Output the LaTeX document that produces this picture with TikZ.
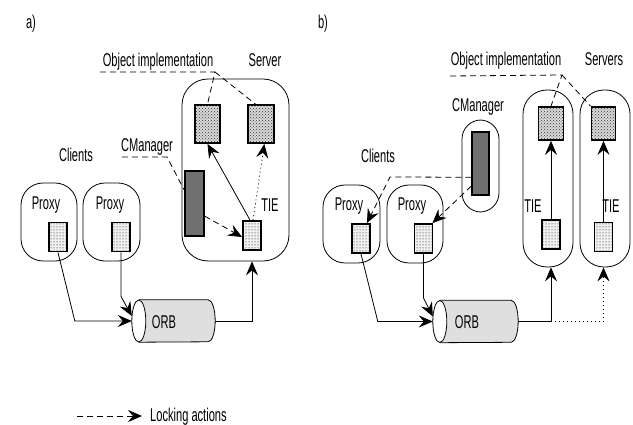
\documentclass[tikz,border=0pt]{standalone}
\usepackage{fontspec}
\setmainfont{Liberation Sans}[FakeStretch=0.6]
\usetikzlibrary{arrows.meta,patterns,backgrounds,calc}

% horizontal drum (ORB) drawn behind a named node
\newcommand\orbdrum[1]{%
  \begin{scope}[on background layer]
    \path[fill=gray!25] ([xshift=7pt]#1.north west) -- ([xshift=-7pt]#1.north east)
      arc[start angle=90,end angle=-90,x radius=7pt,y radius=21pt]
      -- ([xshift=7pt]#1.south west) -- cycle;
    \draw[line width=0.8pt] ([xshift=7pt]#1.north west) -- ([xshift=-7pt]#1.north east)
      arc[start angle=90,end angle=-90,x radius=7pt,y radius=21pt]
      -- ([xshift=7pt]#1.south west);
    \draw[line width=0.8pt,fill=white] ([xshift=7pt]#1.west) ellipse[x radius=7pt,y radius=21pt];
  \end{scope}}

\begin{document}
\begin{tikzpicture}[x=1pt,y=-1pt,
  lbl/.style={font=\fontsize{18.5pt}{20pt}\selectfont,inner sep=0pt,anchor=base},
  host/.style={draw,line width=0.8pt,inner sep=0pt},
  stub/.style={draw,line width=1.8pt,fill=gray!12,postaction={pattern=dots,pattern color=black},
               inner sep=0pt,minimum width=18pt,minimum height=29pt},
  impl/.style={draw,line width=1.8pt,fill=gray!30,postaction={pattern=crosshatch dots,pattern color=black!80},
               inner sep=0pt},
  cman/.style={draw,line width=1.3pt,fill=black!56,inner sep=0pt},
  orb/.style={inner sep=0pt},
  flow/.style={line width=0.8pt,-{Stealth[length=14pt,width=12pt,inset=5pt]}},
  lock/.style={flow,dash pattern=on 6pt off 4pt},
  idle/.style={flow,dash pattern=on 1pt off 3pt},
  leader/.style={line width=0.8pt,dash pattern=on 6pt off 4pt}]
\useasboundingbox (0,0) rectangle (633,425);

% ---------------- a) ----------------
\node[lbl] (capA) at (31,29) {a)};
\node[lbl] (implA) at (158,67) {Object implementation};
\node[lbl] (srvlA) at (265,67) {Server};
\node[lbl] (cmlA) at (147,152) {CManager};
\node[lbl] (cliA) at (76,162) {Clients};

\node[host,rounded corners=26pt,minimum width=107pt,minimum height=182pt] (srvA) at (235.5,170) {};
\node[impl,minimum width=25pt,minimum height=38pt] (objA1) at (207.5,124) {};
\node[impl,minimum width=26pt,minimum height=38pt] (objA2) at (261,124) {};
\node[cman,minimum width=19pt,minimum height=65pt] (cmA) at (194.5,203.5) {};
\node[stub] (tieA) at (252,235.5) {};
\node[lbl] (tielA) at (270,212) {TIE};

\node[host,rounded corners=22pt,minimum width=56pt,minimum height=78pt] (pxA1) at (49,222) {};
\node[lbl] at (46,210) {Proxy};
\node[stub] (stA1) at (58,237) {};
\node[host,rounded corners=22pt,minimum width=57pt,minimum height=78pt] (pxA2) at (111.5,222) {};
\node[lbl] at (110,210) {Proxy};
\node[stub] (stA2) at (121,237) {};

\node[orb,minimum width=83pt,minimum height=42pt,label={[lbl,anchor=center,xshift=-9.5pt,yshift=-1pt]center:ORB}] (orbA) at (173.5,321) {};
\orbdrum{orbA}

% leaders
\coordinate (ulA) at (100,72);
\coordinate (kA) at (215,72);
\draw[leader] (ulA) -- (kA) -- (objA1.north);
\draw[leader] (kA) -- ($(objA2.north west)!0.3!(objA2.north east)$);
\coordinate (ulC) at (122,157);
\coordinate (kC) at (167,157);
\draw[leader] (ulC) -- (kC) -- ($(cmA.north west)!0.3!(cmA.south west)$);

% flows
\draw[lock] ($(cmA.north east)!0.69!(cmA.south east)$) -- ($(tieA.north west)!0.55!(tieA.south west)$);
\draw[flow] ($(tieA.north)+(-2,0)$) -- (objA1.south);
\draw[idle] ($(tieA.north)+(1,0)$) -- ($(objA2.south west)!0.62!(objA2.south east)$);
\draw[flow] (stA1.south) -- ($(orbA.west)+(-57,0)$) -- (orbA.west);
\draw[flow] (stA2.south) -- ++(0,44) -- ($(orbA.west)+(0,-5)$);
\draw[flow] (orbA.east) -| (tieA.south |- srvA.south);

% ---------------- b) ----------------
\node[lbl] (capB) at (323,29) {b)};
\node[lbl] (implB) at (506,66) {Object implementation};
\node[lbl] (srvlB) at (604,66) {Servers};
\node[lbl] (cmlB) at (478,112) {CManager};
\node[lbl] (cliB) at (378,163) {Clients};

\node[host,rounded corners=19pt,minimum width=37pt,minimum height=92pt] (cmhB) at (480.5,166) {};
\node[cman,minimum width=17pt,minimum height=63pt] (cmB) at (480.5,163.5) {};

\node[host,rounded corners=24pt,minimum width=50pt,minimum height=177pt] (srvB1) at (548,178.5) {};
\node[host,rounded corners=24pt,minimum width=50pt,minimum height=177pt] (srvB2) at (605,178.5) {};
\node[impl,minimum width=25pt,minimum height=33pt] (objB1) at (551,123.5) {};
\node[impl,minimum width=24pt,minimum height=33pt] (objB2) at (603.5,123.5) {};
\node[stub] (tieB1) at (551,234.5) {};
\node[stub] (tieB2) at (603.5,237) {};
\node[lbl] at (533,213) {TIE};
\node[lbl] at (611,213) {TIE};

\node[host,rounded corners=22pt,minimum width=57pt,minimum height=78pt] (pxB1) at (351.5,224) {};
\node[lbl] at (349,211) {Proxy};
\node[stub] (stB1) at (361,238.5) {};
\node[host,rounded corners=22pt,minimum width=56pt,minimum height=78pt] (pxB2) at (415,224) {};
\node[lbl] at (412,211) {Proxy};
\node[stub] (stB2) at (423.5,238.5) {};

\node[orb,minimum width=85pt,minimum height=42pt,label={[lbl,anchor=center,xshift=-8.5pt,yshift=-1pt]center:ORB}] (orbB) at (475.5,321.5) {};
\orbdrum{orbB}

% leaders
\coordinate (ulB) at (450,76);
\coordinate (kB) at (562,75);
\draw[leader] (ulB) -- (kB) -- (objB1.north);
\draw[leader] (kB) -- (objB2.north west);

% flows
\coordinate (kL) at (390,177);
\draw[lock] ($(cmB.north west)!0.714!(cmB.south west)$) -- (kL) -- ($(stB1.north)!0.6!(stB1.north east)$);
\draw[lock] ($(cmB.north west)!0.85!(cmB.south west)$) -- ($(stB2.north)!0.9!(stB2.north east)$);
\draw[flow] (tieB1.north) -- (objB1.south);
\draw[flow] (tieB2.north) -- (objB2.south);
\draw[flow] (stB1.south) -- ($(orbB.west)+(-55,0)$) -- (orbB.west);
\draw[flow] (stB2.south) -- ++(0,44) -- ($(orbB.west)+(0,-5)$);
\draw[flow] (orbB.east) -| (tieB1.south |- srvB1.south);
\draw[idle] (orbB.east -| tieB1.south) -| (tieB2.south |- srvB2.south);

% ---------------- legend ----------------
\coordinate (legS) at (77,416);
\node[lbl,anchor=base west] (legT) at (150,421) {Locking actions};
\draw[lock,shorten >=8pt] (legS) -- (legS -| legT.west);
\end{tikzpicture}
\end{document}
